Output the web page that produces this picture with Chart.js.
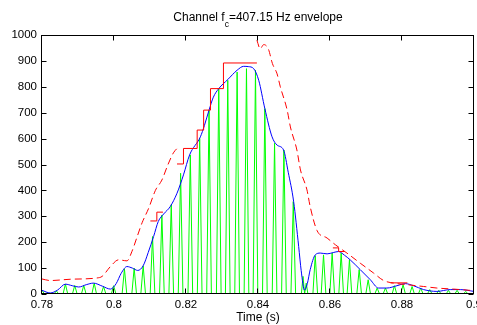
<!DOCTYPE html>
<html>
<head>
<meta charset="utf-8">
<script src="https://cdn.jsdelivr.net/npm/chart.js@4.4.1/dist/chart.umd.min.js"></script>
<style>
  html, body { margin: 0; padding: 0; background: #fff; }
  canvas { display: block; }
</style>
</head>
<body>
<canvas id="chart" width="477" height="325"></canvas>
<script>
/* ── data ────────────────────────────────────────────────── */

const titleParts = ["Channel f", "c", "=407.15 Hz envelope"];
const xLabel = "Time (s)";

const xTicks = [0.78, 0.80, 0.82, 0.84, 0.86, 0.88, 0.90];
const yTicks = [0, 100, 200, 300, 400, 500, 600, 700, 800, 900, 1000];

// green: half-wave rectified signal, one lobe per peak
const greenPeakT = [0.7800, 0.7815, 0.7840, 0.7865, 0.7891, 0.7916, 0.7945, 0.7971, 0.7999, 0.8029,
                    0.8056, 0.8081, 0.8107, 0.8133, 0.8159, 0.8185, 0.8212, 0.8238, 0.8264, 0.8291,
                    0.8316, 0.8342, 0.8368, 0.8393, 0.8419, 0.8446, 0.8472, 0.8498, 0.8525, 0.8534,
                    0.8559, 0.8582, 0.8606, 0.8631, 0.8654, 0.8681, 0.8706, 0.8731, 0.8754, 0.8779,
                    0.8803, 0.8828, 0.8852, 0.8877, 0.8902, 0.8929, 0.8953, 0.8977];
const greenPeakV = [15, 5, 12, 38, 33, 33, 42, 29, 32, 97,
                    100, 109, 222, 305, 345, 466, 537, 601, 710, 793,
                    825, 857, 870, 864, 716, 582, 556, 357, 68, 42,
                    148, 151, 158, 158, 132, 94, 55, 23, 23, 32,
                    36, 29, 23, 17, 14, 14, 14, 10];
const lobeHalf = 0.00065;

// blue: smooth envelope
const blueT = [0.7800, 0.7823, 0.7843, 0.7865, 0.7884, 0.7902, 0.7923, 0.7943, 0.7968, 0.7990,
               0.8006, 0.8020, 0.8036, 0.8051, 0.8066, 0.8081, 0.8095, 0.8110, 0.8123, 0.8138,
               0.8156, 0.8175, 0.8193, 0.8210, 0.8240, 0.8251, 0.8264, 0.8276, 0.8291, 0.8316,
               0.8342, 0.8360, 0.8373, 0.8388, 0.8402, 0.8419, 0.8439, 0.8453, 0.8471, 0.8484,
               0.8499, 0.8513, 0.8520, 0.8529, 0.8537, 0.8545, 0.8559, 0.8573, 0.8592, 0.8609,
               0.8624, 0.8640, 0.8656, 0.8684, 0.8712, 0.8735, 0.8758, 0.8786, 0.8809, 0.8832,
               0.8860, 0.8897, 0.8934, 0.8962, 0.9000];
const blueV = [14, 4, 15, 38, 32, 27, 36, 42, 30, 19,
               40, 80, 106, 100, 91, 109, 160, 222, 280, 309,
               337, 389, 460, 537, 607, 650, 710, 760, 793, 828,
               864, 879, 878, 870, 825, 716, 607, 575, 556, 470,
               357, 183, 90, 15, 40, 94, 151, 158, 155, 160,
               164, 150, 132, 94, 55, 23, 23, 32, 40, 32,
               17, 10, 17, 17, 10];

// red solid: staircase (null = break)
const stepT = [0.8101, 0.8119, 0.8136, 0.8150,
               0.8175, 0.8193, 0.8231, 0.8249, 0.8268, 0.8304, 0.8397, 0.8500,
               0.8608, 0.8624, 0.8640, 0.8700,
               0.8768, 0.8815];
const stepV = [282, 316, 316, null,
               502, 562, 633, 710, 793, 892, 892, null,
               178, 164, 164, null,
               43, 43];

// red dashed: upper envelope (null = break)
const dashT = [0.7800, 0.7823, 0.7879, 0.7953, 0.7967, 0.7990, 0.8013, 0.8036, 0.8050, 0.8064,
               0.8078, 0.8096, 0.8115, 0.8133, 0.8150, 0.8165, 0.8177, 0.8280,
               0.8397, 0.8406, 0.8416, 0.8429, 0.8440, 0.8453, 0.8462, 0.8481, 0.8490, 0.8508,
               0.8518, 0.8536, 0.8545, 0.8564, 0.8592, 0.8615, 0.8647, 0.8684, 0.8721, 0.8749,
               0.8777, 0.8814, 0.8860, 0.8897, 0.8943, 0.8990, 0.9000];
const dashV = [58, 52, 57, 62, 68, 106, 132, 128, 165, 220,
               275, 330, 400, 440, 500, 545, 565, null,
               980, 947, 963, 945, 890, 850, 800, 710, 645, 556,
               479, 402, 337, 245, 216, 190, 158, 119, 81, 52,
               42, 36, 29, 23, 19, 14, 13];

/* ── helpers ─────────────────────────────────────────────── */

const FONT = '"Liberation Sans", Arial, Helvetica, sans-serif';

function pairs(ts, vs) {
  return ts.map((t, i) => ({ x: t, y: vs[i] }));
}

function lobes(ts, vs) {
  const pts = [];
  ts.forEach((t, i) => {
    const prev = i > 0 ? t - ts[i - 1] : Infinity;
    const next = i < ts.length - 1 ? ts[i + 1] - t : Infinity;
    const w = Math.min(lobeHalf, prev / 2, next / 2);
    pts.push({ x: t - w, y: 0 }, { x: t, y: vs[i] }, { x: t + w, y: 0 });
  });
  return pts;
}

/* ── plugins ─────────────────────────────────────────────── */

const titlePlugin = {
  id: "subTitle",
  afterDraw(chart) {
    const { ctx, chartArea } = chart;
    const big = `12px ${FONT}`;
    const small = `8.5px ${FONT}`;
    ctx.save();
    ctx.fillStyle = "#000";
    ctx.textBaseline = "alphabetic";
    ctx.font = big;
    const w1 = ctx.measureText(titleParts[0]).width;
    const w3 = ctx.measureText(titleParts[2]).width;
    ctx.font = small;
    const w2 = ctx.measureText(titleParts[1]).width;
    let x = (chartArea.left + chartArea.right) / 2 - (w1 + w2 + w3) / 2;
    ctx.font = big;  ctx.fillText(titleParts[0], x, 20.5); x += w1;
    ctx.font = small; ctx.fillText(titleParts[1], x, 26.5); x += w2;
    ctx.font = big;  ctx.fillText(titleParts[2], x, 20.5);
    ctx.restore();
  },
};

const framePlugin = {
  id: "frame",
  afterDatasetsDraw(chart) {
    const { ctx, chartArea: a, scales } = chart;
    const L = a.left - 0.5, R = a.right - 0.5, T = a.top + 0.5, B = a.bottom - 0.5;
    ctx.save();
    ctx.strokeStyle = "#000";
    ctx.lineWidth = 1;
    ctx.strokeRect(L, T, R - L, B - T);
    ctx.beginPath();
    xTicks.forEach(v => {
      const px = Math.round(scales.x.getPixelForValue(v)) - 0.5;
      ctx.moveTo(px, B); ctx.lineTo(px, B - 5);
      ctx.moveTo(px, T); ctx.lineTo(px, T + 5);
    });
    yTicks.forEach(v => {
      const py = Math.round(scales.y.getPixelForValue(v)) + 0.5;
      ctx.moveTo(L, py); ctx.lineTo(L + 5, py);
      ctx.moveTo(R, py); ctx.lineTo(R - 5, py);
    });
    ctx.stroke();
    ctx.restore();
  },
};

/* ── chart ───────────────────────────────────────────────── */

new Chart(document.getElementById("chart"), {
  type: "line",
  data: {
    datasets: [
      {
        data: pairs(dashT, dashV),
        borderColor: "#ff0000",
        borderWidth: 1,
        borderDash: [7, 4],
        cubicInterpolationMode: "monotone",
        spanGaps: false,
      },
      {
        data: pairs(stepT, stepV),
        borderColor: "#ff0000",
        borderWidth: 1,
        stepped: true,
        spanGaps: false,
      },
      {
        data: pairs(blueT, blueV),
        borderColor: "#0000ff",
        borderWidth: 1,
        cubicInterpolationMode: "monotone",
      },
      {
        data: lobes(greenPeakT, greenPeakV),
        borderColor: "#00ff00",
        borderWidth: 1,
        tension: 0,
      },
    ],
  },
  options: {
    responsive: false,
    animation: false,
    devicePixelRatio: 1,
    layout: { autoPadding: false, padding: { left: 0, right: 3, top: 35, bottom: 0 } },
    elements: { point: { radius: 0 } },
    plugins: { legend: { display: false }, tooltip: { enabled: false }, title: { display: false } },
    scales: {
      x: {
        type: "linear",
        min: 0.78,
        max: 0.9,
        grid: { display: false, drawTicks: false },
        border: { display: false },
        afterBuildTicks: s => { s.ticks = xTicks.map(v => ({ value: v })); },
        afterFit: s => { s.height = 31; s.paddingLeft = 0; s.paddingRight = 0; },
        ticks: {
          color: "#000",
          font: { family: FONT, size: 11.5 },
          padding: 4,
          maxRotation: 0,
          autoSkip: false,
          callback: v => String(+(+v).toFixed(2)),
        },
        title: {
          display: true,
          text: xLabel,
          color: "#000",
          font: { family: FONT, size: 12 },
          padding: { top: 0, bottom: 0 },
        },
      },
      y: {
        min: 0,
        max: 1000,
        grid: { display: false, drawTicks: false },
        border: { display: false },
        afterBuildTicks: s => { s.ticks = yTicks.map(v => ({ value: v })); },
        afterFit: s => { s.width = 42; s.paddingTop = 0; s.paddingBottom = 0; },
        ticks: {
          color: "#000",
          font: { family: FONT, size: 11.5 },
          padding: 5,
          autoSkip: false,
          callback: v => String(v),
        },
      },
    },
  },
  plugins: [titlePlugin, framePlugin],
});
</script>
</body>
</html>
